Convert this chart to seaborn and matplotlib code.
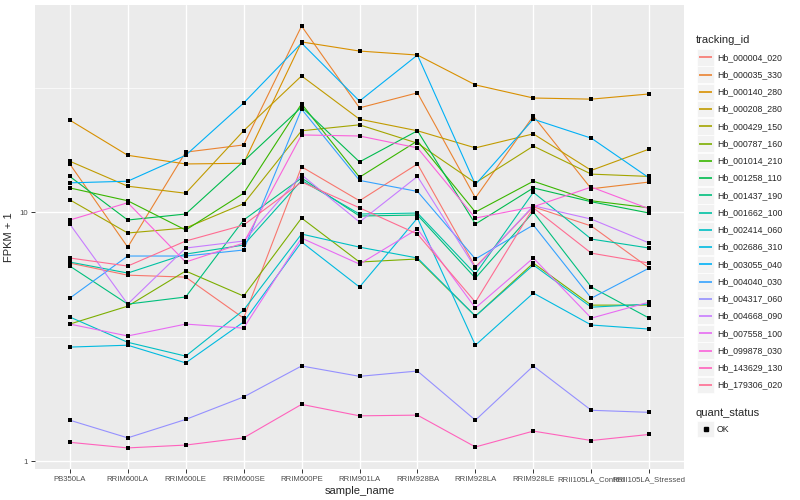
import matplotlib
matplotlib.use('Agg')
import matplotlib.pyplot as plt
import numpy as np
import pandas as pd
import seaborn as sns
from matplotlib.lines import Line2D
from matplotlib.patches import Rectangle
from matplotlib.ticker import FixedLocator, NullFormatter

# Samples on the x axis
samples = ['PB350LA', 'RRIM600LA', 'RRIM600LE', 'RRIM600SE', 'RRIM600PE',
           'RRIM901LA', 'RRIM928BA', 'RRIM928LA', 'RRIM928LE',
           'RRII105LA_Control', 'RRII105LA_Stressed']

tracking_ids = ['Hb_000004_020', 'Hb_000035_330', 'Hb_000140_280',
                'Hb_000208_280', 'Hb_000429_150', 'Hb_000787_160',
                'Hb_001014_210', 'Hb_001258_110', 'Hb_001437_190',
                'Hb_001662_100', 'Hb_002414_060', 'Hb_002686_310',
                'Hb_003055_040', 'Hb_004040_030', 'Hb_004317_060',
                'Hb_004668_090', 'Hb_007558_100', 'Hb_099878_030',
                'Hb_143629_130', 'Hb_179306_020']

# FPKM + 1 per gene, one value per sample
hb_000004_020 = [6.24, 5.58, 5.48, 3.75, 15.2, 11.1, 15.6, 6.02, 10.5, 8.79, 5.96]
hb_000035_330 = [15.6, 7.23, 17.4, 18.6, 55.8, 26.2, 30.1, 11.4, 24.3, 12.4, 13.2]
hb_000140_280 = [23.4, 16.9, 15.6, 15.7, 48.2, 44.3, 42.7, 32.4, 28.7, 28.4, 29.8]
hb_000208_280 = [16.0, 12.7, 11.9, 21.2, 35.2, 23.6, 21.2, 18.1, 20.6, 14.7, 17.9]
hb_000429_150 = [11.2, 8.24, 8.63, 10.8, 21.2, 22.4, 18.9, 13.1, 18.4, 14.2, 13.9]
hb_000787_160 = [3.55, 4.19, 5.80, 4.60, 9.46, 6.30, 6.48, 3.82, 6.24, 4.23, 4.23]
hb_001014_210 = [12.5, 11.1, 8.47, 11.9, 27.2, 13.8, 19.3, 10.0, 13.3, 11.1, 10.4]
hb_001258_110 = [13.9, 9.29, 9.82, 16.0, 26.4, 15.9, 21.2, 8.95, 12.5, 11.0, 9.91]
hb_001437_190 = [6.07, 4.27, 4.56, 9.29, 13.7, 9.64, 9.73, 5.43, 10.0, 5.00, 3.75]
hb_001662_100 = [6.30, 5.69, 6.78, 7.37, 13.4, 9.82, 9.91, 5.64, 12.0, 7.79, 7.17]
hb_002414_060 = [3.79, 3.00, 2.64, 4.04, 8.16, 7.23, 6.54, 3.82, 6.13, 4.15, 4.27]
hb_002686_310 = [2.87, 2.92, 2.48, 3.62, 7.58, 5.00, 9.46, 2.92, 4.73, 3.52, 3.39]
hb_003055_040 = [13.1, 13.3, 16.9, 27.4, 47.7, 27.9, 42.7, 12.9, 23.6, 19.8, 13.7]
hb_004040_030 = [4.51, 6.66, 6.66, 7.04, 25.9, 13.4, 12.1, 6.48, 8.87, 4.51, 5.96]
hb_004317_060 = [1.46, 1.24, 1.47, 1.81, 2.41, 2.19, 2.30, 1.46, 2.41, 1.60, 1.57]
hb_004668_090 = [8.95, 4.27, 7.17, 7.65, 14.1, 9.12, 13.9, 5.96, 10.6, 9.37, 7.51]
hb_007558_100 = [3.55, 3.18, 3.55, 3.42, 7.86, 6.18, 8.55, 4.12, 6.54, 3.75, 4.35]
hb_099878_030 = [9.29, 10.9, 6.30, 7.51, 20.4, 20.2, 18.1, 9.46, 10.5, 12.6, 10.3]
hb_143629_130 = [1.19, 1.13, 1.16, 1.24, 1.69, 1.52, 1.53, 1.14, 1.32, 1.21, 1.28]
hb_179306_020 = [6.54, 6.07, 7.65, 8.87, 13.2, 10.4, 8.16, 4.35, 10.4, 6.84, 6.24]

series = [hb_000004_020, hb_000035_330, hb_000140_280, hb_000208_280,
          hb_000429_150, hb_000787_160, hb_001014_210, hb_001258_110,
          hb_001437_190, hb_001662_100, hb_002414_060, hb_002686_310,
          hb_003055_040, hb_004040_030, hb_004317_060, hb_004668_090,
          hb_007558_100, hb_099878_030, hb_143629_130, hb_179306_020]

# ggplot2 default hue palette for 20 levels
palette = ['#F8766D', '#EA8331', '#D89000', '#C09B00', '#A3A500', '#7CAE00',
           '#39B600', '#00BB4E', '#00BF7D', '#00C1A3', '#00BFC4', '#00BAE0',
           '#00B0F6', '#35A2FF', '#9590FF', '#C77CFF', '#E76BF3', '#FA62DB',
           '#FF62BC', '#FF6C91']

rows = []
for tid, vals in zip(tracking_ids, series):
    for s, v in zip(samples, vals):
        rows.append({'tracking_id': tid, 'sample_name': s, 'fpkm1': v,
                     'quant_status': 'OK'})
df = pd.DataFrame(rows)

sns.set_theme(style='darkgrid', rc={
    'axes.facecolor': '#EBEBEB',
    'grid.color': 'white',
    'axes.edgecolor': '#EBEBEB',
})
plt.rcParams['font.family'] = ['Liberation Sans', 'DejaVu Sans']

fig = plt.figure(figsize=(8, 5), dpi=100)
ax = fig.add_axes([35 / 800, 1 - 469 / 500, (684 - 35) / 800, (469 - 5) / 500])
ax.set_yscale('log')

sns.lineplot(data=df, x='sample_name', y='fpkm1', hue='tracking_id',
             hue_order=tracking_ids, palette=palette, sort=False,
             estimator=None, linewidth=0.8, legend=False, ax=ax)
sns.scatterplot(data=df, x='sample_name', y='fpkm1', color='black',
                marker='s', s=9, linewidth=0, legend=False, ax=ax, zorder=5)

ax.set_xlim(-0.6, len(samples) - 0.4)
ax.margins(y=0.05)
ax.autoscale(axis='y')

ax.yaxis.set_major_locator(FixedLocator([1, 10]))
ax.set_yticklabels(['1', '10'])
ax.yaxis.set_minor_locator(FixedLocator([10 ** 0.5, 10 ** 1.5]))
ax.yaxis.set_minor_formatter(NullFormatter())

ax.grid(which='major', color='white', linewidth=1.0)
ax.grid(which='minor', axis='y', color='white', linewidth=0.5)
ax.grid(which='minor', axis='x', visible=False)
for sp in ax.spines.values():
    sp.set_visible(False)

ax.tick_params(axis='both', which='major', direction='out', length=3,
               width=0.7, color='#333333', labelcolor='#4D4D4D',
               labelsize=5.6, pad=2, left=True, bottom=True)
ax.tick_params(axis='y', which='minor', length=0)

ax.set_xlabel('sample_name', fontsize=8, labelpad=2)
ax.set_ylabel('FPKM + 1', fontsize=8, labelpad=4)


def fx(px):
    return px / 800


def fy(py):
    return 1 - py / 500


# Legend: tracking_id
fig.text(fx(696), fy(40), 'tracking_id', fontsize=8, va='center', ha='left')
for i, (tid, col) in enumerate(zip(tracking_ids, palette)):
    yc = 57.3 + i * 17.25
    fig.add_artist(Rectangle((fx(697), fy(yc + 8.2)), 17 / 800, 16.4 / 500,
                             transform=fig.transFigure, facecolor='#F2F2F2',
                             edgecolor='white', linewidth=0.5, zorder=1))
    fig.add_artist(Line2D([fx(698.5), fx(712)], [fy(yc), fy(yc)], color=col,
                          linewidth=1.2, solid_capstyle='butt', zorder=3,
                          transform=fig.transFigure))
    fig.text(fx(717), fy(yc), tid, fontsize=6.3, va='center', ha='left')

# Legend: quant_status
fig.text(fx(696), fy(413), 'quant_status', fontsize=8, va='center', ha='left')
fig.add_artist(Rectangle((fx(697), fy(429 + 8.2)), 17 / 800, 16.4 / 500,
                         transform=fig.transFigure, facecolor='#F2F2F2',
                         edgecolor='white', linewidth=0.5, zorder=1))
fig.add_artist(Line2D([fx(705.5)], [fy(429)], color='black', marker='s',
                      markersize=3, linestyle='none', zorder=3,
                      transform=fig.transFigure))
fig.text(fx(717), fy(429), 'OK', fontsize=6.3, va='center', ha='left')

fig.savefig('out.png', dpi=100)
